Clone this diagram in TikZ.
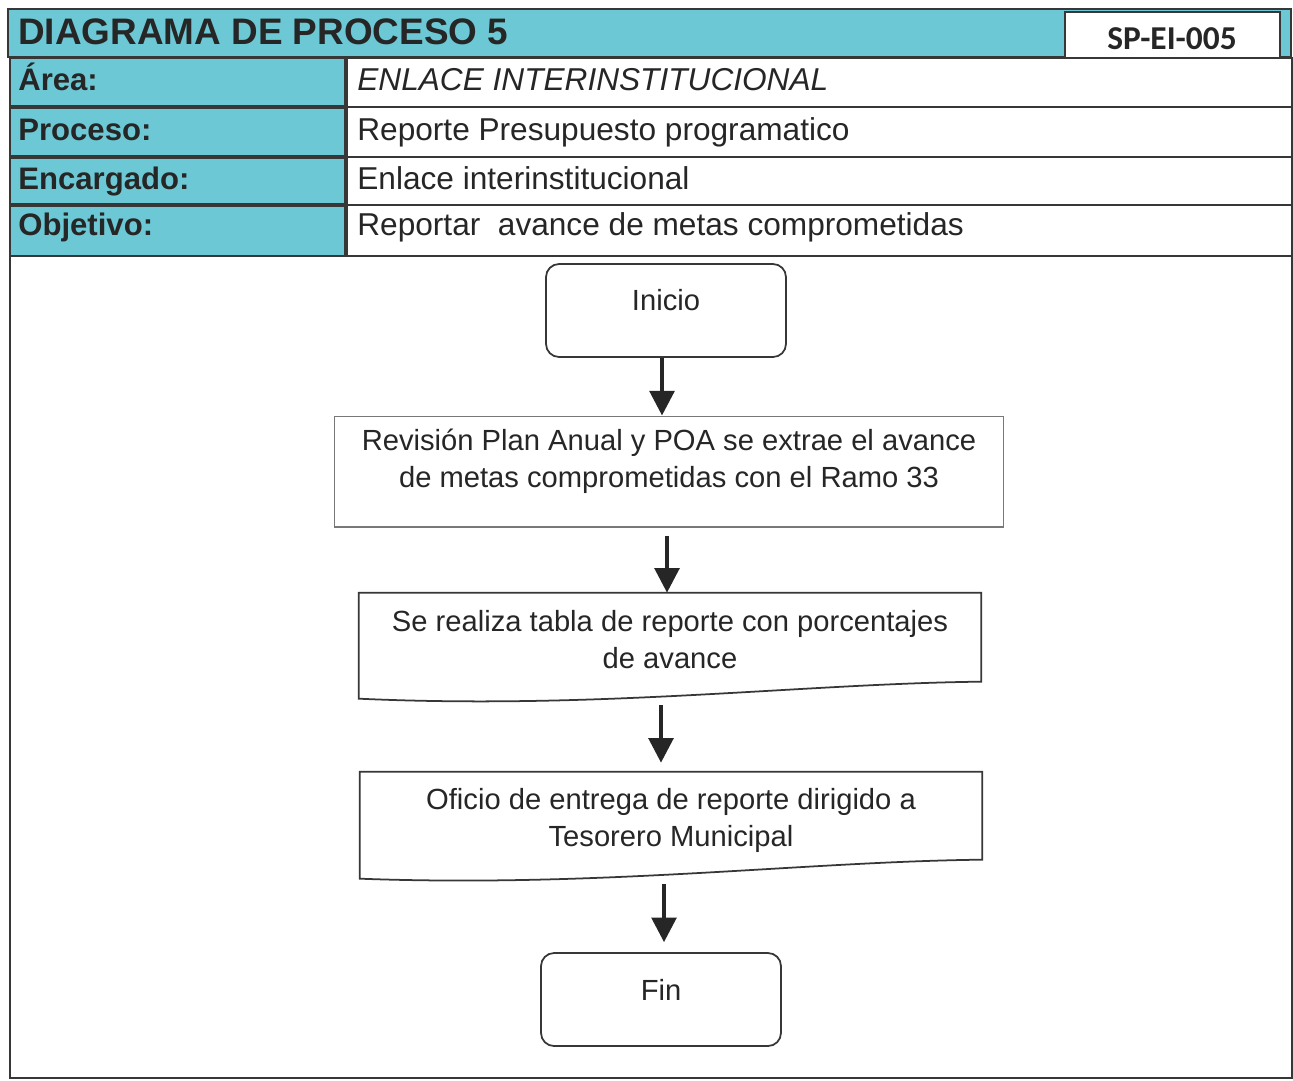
\documentclass[tikz,border=0pt]{standalone}
\usepackage{fontspec}
\setmainfont{Liberation Sans}
\newfontfamily\carlito{Carlito}
\usetikzlibrary{arrows.meta,calc}
\definecolor{hdcyan}{RGB}{108,200,212}
\definecolor{lnc}{RGB}{55,55,55}
\definecolor{boxln}{RGB}{120,120,120}
\begin{document}
\begin{tikzpicture}[x=0.02cm,y=-0.02cm,
  lcell/.style={draw=lnc,line width=1.2pt,fill=hdcyan},
  rcell/.style={draw=lnc,line width=1pt,fill=white},
  lbl/.style={anchor=base west,inner sep=0pt,font=\fontsize{17.7}{20}\selectfont\bfseries,text=black!85},
  val/.style={anchor=base west,inner sep=0pt,font=\fontsize{18}{21}\selectfont,text=black!85},
  term/.style={draw=lnc,line width=1pt,rounded corners=0.26cm,minimum width=4.8cm,minimum height=1.86cm,
    font=\fontsize{16.6}{21}\selectfont,text=black!85},
  procbox/.style={draw=boxln,line width=0.6pt,minimum width=13.4cm,minimum height=2.22cm,
    font=\fontsize{16.6}{21}\selectfont,text=black!85},
  docnode/.style={minimum width=12.44cm,minimum height=2.24cm,inner sep=0pt},
  doctext/.style={font=\fontsize{16.6}{21}\selectfont,text=black!85,align=center},
  docline/.style={draw=lnc,line width=1pt},
  arr/.style={draw=black!85,line width=2.3pt,-{Triangle[width=14pt,length=14pt]}}
]
\useasboundingbox (0,0) rectangle (1293,1080);
\fill[white] (0,0) rectangle (1293,1080);

% title bar
\draw[lnc,line width=1.2pt,fill=hdcyan] (8,9) rectangle (1291,57);
\node[anchor=base west,inner sep=0pt,font=\fontsize{21}{24}\selectfont\bfseries,text=black!85] (title) at (18,44) {DIAGRAMA DE PROCESO 5};
\draw[lnc,line width=1pt,fill=white] (1065,12) rectangle (1280,60);
\node[font=\carlito\fontsize{19}{22}\selectfont\bfseries,text=black!85] (code) at (1172,39) {SP-EI-005};

% rows
\draw[rcell] (347,58) rectangle (1292,107);
\draw[rcell] (347,107) rectangle (1292,157);
\draw[rcell] (347,157) rectangle (1292,205);
\draw[rcell] (347,205) rectangle (1292,256);
\draw[lcell] (10,58) rectangle (345,106);
\draw[lcell] (10,108) rectangle (345,156);
\draw[lcell] (10,158) rectangle (345,204);
\draw[lcell] (10,206) rectangle (345,256);

\node[lbl] (la) at (18,90) {Área:};
\node[lbl] (lp) at (18,140) {Proceso:};
\node[lbl] (le) at (18,189) {Encargado:};
\node[lbl] (lo) at (18,235) {Objetivo:};
\node[val,font=\fontsize{18}{21}\selectfont\itshape] (va) at (357,90) {ENLACE INTERINSTITUCIONAL};
\node[val] (vp) at (357,140) {Reporte Presupuesto programatico};
\node[val] (ve) at (357,189) {Enlace interinstitucional};
\node[val] (vo) at (357,235) {Reportar\ \ avance de metas comprometidas};

% body frame
\draw[lnc,line width=1.2pt] (10,256) -- (10,1078) -- (1292,1078) -- (1292,256);

% flowchart
\node[term,label={[font=\fontsize{16.6}{21}\selectfont,text=black!85,yshift=0.2cm]center:Inicio}] (inicio) at (666,310.5) {};
\node[procbox,label={[font=\fontsize{16.6}{21}\selectfont,text=black!85,align=center,yshift=0.2cm]center:Revisión Plan Anual y POA se extrae el avance\\de metas comprometidas con el Ramo 33}] (rev) at (669,471.5) {};
\node[docnode] (tabla) at (670,649) {};
\draw[docline] (tabla.north west) -- (tabla.north east) -- ($(tabla.north east)+(0,89)$)
  .. controls ($(tabla.north east)+(-180,91)$) and ($(tabla.north west)+(240,117)$) .. ($(tabla.north west)+(0,106)$) -- cycle;
\node[doctext] at ($(tabla.center)+(0,-9)$) {Se realiza tabla de reporte con porcentajes\\de avance};
\node[docnode] (oficio) at (671,828) {};
\draw[docline] (oficio.north west) -- (oficio.north east) -- ($(oficio.north east)+(0,88)$)
  .. controls ($(oficio.north east)+(-180,90)$) and ($(oficio.north west)+(240,116)$) .. ($(oficio.north west)+(0,107)$) -- cycle;
\node[doctext] at ($(oficio.center)+(0,-8)$) {Oficio de entrega de reporte dirigido a\\Tesorero Municipal};
\node[term,label={[font=\fontsize{16.6}{21}\selectfont,text=black!85,yshift=0.2cm]center:Fin}] (fin) at (661,999.5) {};

\draw[arr] (inicio.south -| 662,0) -- (rev.north -| 662,0);
\draw[arr] ($(rev.south -| 667,0)+(0,8)$) -- (tabla.north -| 667,0);
\draw[arr] (tabla.south -| 661,0) -- ($(oficio.north -| 661,0)+(0,-9)$);
\draw[arr] (oficio.south -| 664,0) -- ($(fin.north -| 664,0)+(0,-10)$);
\end{tikzpicture}
\end{document}
